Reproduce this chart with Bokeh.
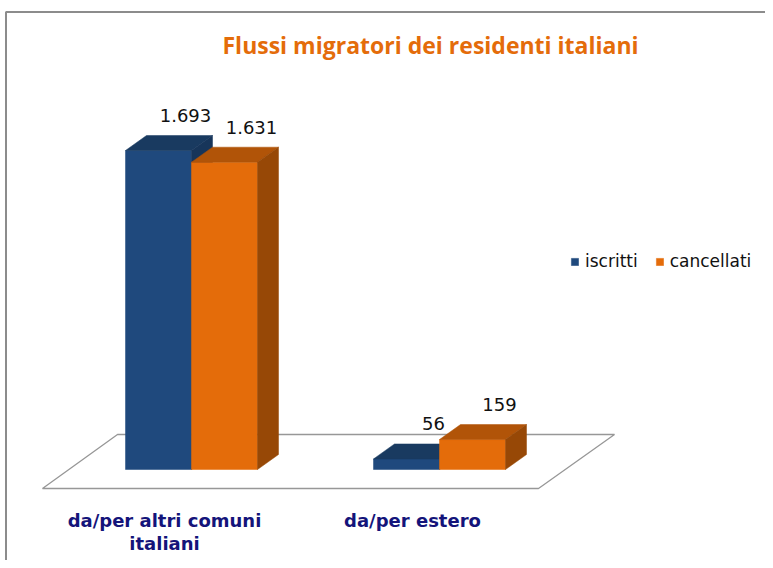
from bokeh.plotting import figure
from bokeh.models import Range1d, Legend, LegendItem
from bokeh.core.properties import value
from bokeh.embed import file_html
from bokeh.resources import INLINE

# ---- data ----
title_text = "Flussi migratori  dei residenti italiani"
categories = ["da/per altri comuni\nitaliani", "da/per estero"]
series_names = ["iscritti", "cancellati"]
iscritti = [1693, 56]
cancellati = [1631, 159]

front_colors = ["#1F497D", "#E46C0A"]
top_colors = ["#193A60", "#B15408"]
side_colors = ["#17355A", "#974806"]

# ---- geometry helpers (picture px -> data) ----
OFF = 0
W, H = 765, 560
PPX = 248.0            # px per category unit
PPU = 319.0 / 1693     # px per value unit
X0 = -(191 - OFF) / PPX
X1 = X0 + W / PPX
Y0 = -(H - (469 - OFF)) / PPU
Y1 = Y0 + H / PPU

def dx(px): return px / PPX
def dy(px): return px / PPU
def sx(page_x): return X0 + (page_x - OFF) / PPX
def sy(page_y): return Y1 - (page_y - OFF) / PPU

BW = dx(66)
DX = dx(21)
DY = dy(15)

p = figure(width=W, height=H, output_backend="svg", toolbar_location=None,
           x_range=Range1d(X0, X1), y_range=Range1d(Y0, Y1),
           x_axis_type=None, y_axis_type=None, min_border=0,
           outline_line_color=None, background_fill_color="white",
           border_fill_color="white")
p.grid.visible = False

# outer border (top and left)
p.line([sx(5.5), sx(5.5), sx(790)], [sy(600), sy(11.5), sy(11.5)],
       line_color="#8C8C8C", line_width=2)

# floor
p.patch([sx(42), sx(538), sx(614), sx(117)], [sy(488), sy(488), sy(434), sy(434)],
        fill_color="white", line_color="#979797", line_width=1.3)

fronts = []
series = [iscritti, cancellati]
for k, vals in enumerate(series):
    fx, fy, tx, ty, kx, ky = [], [], [], [], [], []
    lx, ly, lt = [], [], []
    for i, v in enumerate(vals):
        l = i + (k - 1) * BW
        r = l + BW
        fx.append([l, r, r, l]); fy.append([0, 0, v, v])
        tx.append([l, r, r + DX, l + DX]); ty.append([v, v, v + DY, v + DY])
        kx.append([r, r + DX, r + DX, r]); ky.append([0, DY, v + DY, v])
        lx.append(l + BW / 2 + DX + dx(6)); ly.append(v + DY + dy(20))
        lt.append(f"{v:,}".replace(",", "."))
    fr = p.patches(fx, fy, fill_color=front_colors[k], line_color=front_colors[k], line_width=0.5)
    p.patches(tx, ty, fill_color=top_colors[k], line_color=top_colors[k], line_width=0.5)
    p.patches(kx, ky, fill_color=side_colors[k], line_color=side_colors[k], line_width=0.5)
    fronts.append(fr)
    p.text(lx, ly, text=lt, text_align="center", text_baseline="middle",
           text_font=value("DejaVu Sans"), text_font_size="18px", text_color="#111111")

# category labels
p.text([i + dx(-27) for i in range(len(categories))], [sy(509)] * len(categories),
       text=categories, text_align="center", text_baseline="top",
       text_font=value("DejaVu Sans"), text_font_style="bold", text_font_size="18px",
       text_color="#14147A", text_line_height=1.1)

# title
p.text([sx(433)], [sy(44)], text=[title_text], text_align="center",
       text_baseline="middle", text_font=value("Open Sans"), text_font_style="bold",
       text_font_size="23px", text_color="#E46C0A")

legend = Legend(items=[LegendItem(label=series_names[k], renderers=[fronts[k]]) for k in range(2)],
                orientation="horizontal", location=(570, 289),
                glyph_width=9, glyph_height=9, label_standoff=6, spacing=17,
                padding=0, margin=0, border_line_color=None, background_fill_alpha=0,
                label_text_font="DejaVu Sans", label_text_font_size="17px",
                label_text_color="#111111")
p.add_layout(legend)

open("out.html", "w").write(file_html(p, INLINE))
